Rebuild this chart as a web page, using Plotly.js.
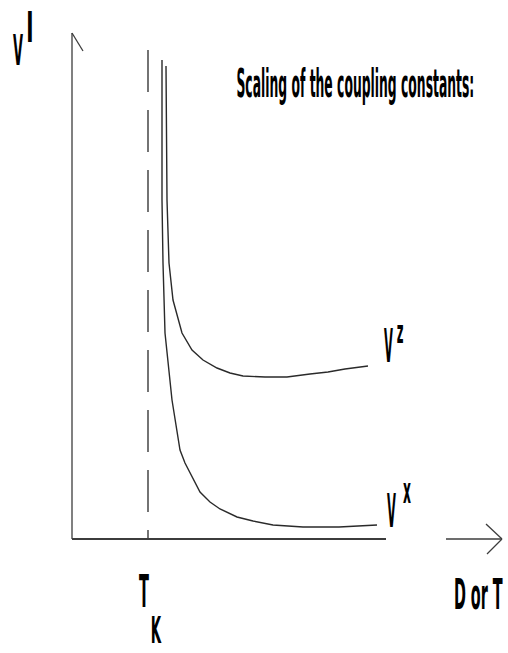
<!DOCTYPE html>
<html>
<head>
<meta charset="utf-8">
<script src="https://cdn.plot.ly/plotly-3.0.1.min.js"></script>
<style>
  html, body { margin: 0; padding: 0; background: #ffffff; }
  #chart { width: 508px; height: 653px; }
</style>
</head>
<body>
<div id="chart"></div>
<script>
// ---- data (arbitrary units: D or T along x, coupling V along y) ----
const Tk = 76;
const vxT = [90, 90, 91, 93, 100, 108, 113, 120, 128, 138, 148, 165, 181, 201, 231, 267, 305];
const vxV = [479, 339, 276, 206, 139, 89, 76, 62, 47, 37, 30, 22, 18, 14, 12, 12, 14];
const vzT = [94, 95, 97, 101, 110, 120, 131, 145, 158, 171, 193, 215, 238, 256, 273, 296];
const vzV = [473, 339, 276, 239, 206, 189, 179, 171, 166, 163, 162, 162, 165, 167, 170, 173];
const tkLine = [489, 0];

const titleText = 'Scaling of the coupling constants:';
const xLabel = 'D or T';

// ---- layout helpers (pixel -> paper) ----
const X0 = 72, Y0 = 539, PW = 436, PH = 539;
const px = p => (p - X0) / PW;
const py = p => (Y0 - p) / PH;

const lineCol = '#2a2a2a';
const traces = [
  { x: [Tk, Tk], y: tkLine, mode: 'lines', line: { color: lineCol, width: 1.3, dash: '42px,18px' }, hoverinfo: 'skip', showlegend: false },
  { x: vzT, y: vzV, mode: 'lines', line: { color: lineCol, width: 1.4 }, name: 'V^z', showlegend: false },
  { x: vxT, y: vxV, mode: 'lines', line: { color: lineCol, width: 1.4 }, name: 'V^x', showlegend: false }
];

// label ink boxes in pixels: left, right, top, baseline
const fam = 'DejaVu Sans';
const labels = [
  { text: titleText, l: 237, r: 473, top: 67, base: 97, size: 41 },
  { text: 'V', l: 13, r: 23, top: 33, base: 65, size: 44 },
  { text: 'I', l: 28, r: 32, top: 10, base: 42, size: 44 },
  { text: 'V', l: 384, r: 393, top: 328, base: 362, size: 46 },
  { text: 'z', l: 397, r: 403, top: 325, base: 343, size: 33 },
  { text: 'V', l: 387, r: 396, top: 493, base: 527, size: 46 },
  { text: 'x', l: 403, r: 411, top: 483, base: 503, size: 37 },
  { text: 'T', l: 139, r: 149, top: 574, base: 607, size: 45 },
  { text: 'K', l: 152, r: 162, top: 615, base: 643, size: 40 },
  { text: xLabel, l: 455, r: 503, top: 578, base: 609, size: 43 }
];
const annots = labels.map(L => ({
  text: L.text, xref: 'paper', yref: 'paper',
  x: px((L.l + L.r) / 2), y: py(L.base - 0.346 * L.size),
  xanchor: 'center', yanchor: 'middle', showarrow: false,
  font: { family: fam + ', sans-serif', size: L.size, color: '#000', weight: 'bold' }
}));

const axCol = '#3c3c3c';
function seg(x0, y0, x1, y1, w) {
  return { type: 'line', xref: 'paper', yref: 'paper', layer: 'above',
           x0: px(x0), y0: py(y0), x1: px(x1), y1: py(y1), line: { color: axCol, width: w } };
}
const shapes = [
  seg(72, 539, 72, 33, 1.3),     // y axis
  seg(72, 33, 83, 51, 1.3),      // half arrow head
  seg(72, 539, 386, 539, 2),     // x axis
  seg(446, 539, 502, 539, 1.6),  // detached arrow
  seg(486, 524, 502, 539, 1.3),
  seg(487, 554, 502, 539, 1.3)
];

const layout = {
  width: 508, height: 653,
  margin: { l: 72, r: 0, t: 0, b: 114, pad: 0 },
  paper_bgcolor: '#ffffff', plot_bgcolor: '#ffffff',
  xaxis: { visible: false, range: [0, 436] },
  yaxis: { visible: false, range: [0, 539] },
  showlegend: false,
  annotations: annots,
  shapes: shapes
};

const gd = document.getElementById('chart');
function fitText() {
  const ctx = document.createElement('canvas').getContext('2d');
  gd.querySelectorAll('g.annotation').forEach(g => {
    const i = +g.getAttribute('data-index');
    const L = labels[i];
    const t = g.querySelector('text.annotation-text');
    if (!L || !t) return;
    t.removeAttribute('transform');
    ctx.font = 'bold ' + L.size + 'px "' + fam + '"';
    ctx.textAlign = 'center';
    ctx.textBaseline = 'alphabetic';
    const m = ctx.measureText(L.text);
    const fA = m.fontBoundingBoxAscent || L.size * 0.928;
    const fD = m.fontBoundingBoxDescent || L.size * 0.236;
    const iL = m.actualBoundingBoxLeft, iR = m.actualBoundingBoxRight, iA = m.actualBoundingBoxAscent;
    const bb = t.getBBox();
    const rect = t.getBoundingClientRect();
    const offX = rect.left - bb.x, offY = rect.top - bb.y;
    const ax = bb.x + bb.width / 2;
    const by = bb.y + bb.height * fA / (fA + fD);
    const inkCx = ax + (iR - iL) / 2;
    const sx = (L.r - L.l) / (iL + iR);
    const sy = (L.base - L.top) / iA;
    const tx = (L.l + L.r) / 2 - offX;
    const ty = L.base - offY;
    t.setAttribute('transform',
      'translate(' + tx + ',' + ty + ') scale(' + sx + ',' + sy + ') translate(' + (-inkCx) + ',' + (-by) + ')');
  });
}
Plotly.newPlot(gd, traces, layout, { staticPlot: true, displayModeBar: false }).then(fitText);
</script>
</body>
</html>
